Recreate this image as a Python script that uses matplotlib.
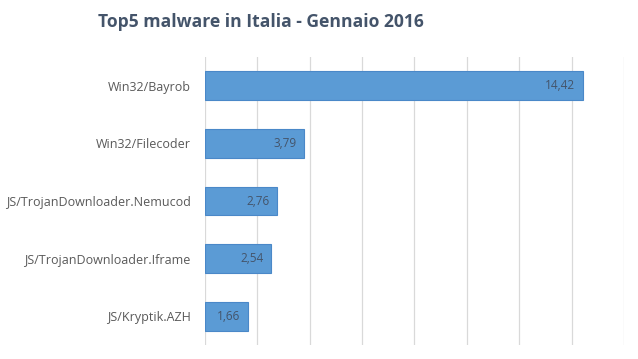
import matplotlib.pyplot as plt
import numpy as np

categories = [
    "Win32/Bayrob",
    "Win32/Filecoder",
    "JS/TrojanDownloader.Nemucod",
    "JS/TrojanDownloader.Iframe",
    "JS/Kryptik.AZH",
]
values = [14.42, 3.79, 2.76, 2.54, 1.66]
value_labels = ["14,42", "3,79", "2,76", "2,54", "1,66"]
x_ticks = [0, 2, 4, 6, 8, 10, 12, 14, 16]

plt.rcParams["font.family"] = ["Open Sans", "DejaVu Sans"]

fig = plt.figure(figsize=(6.38, 3.59), dpi=100)
ax = fig.add_axes([0.321, 0.039, 0.657, 0.802])

y = np.arange(len(categories))
bars = ax.barh(y, values, height=0.5, color="#5b9bd5", edgecolor="#4a88c8", linewidth=0.8, zorder=3)

for bar, lab in zip(bars, value_labels):
    ax.text(bar.get_width() - 0.3, bar.get_y() + bar.get_height() / 2, lab,
            ha="right", va="center", fontsize=8.5, color="#44546a", zorder=4)

ax.set_xlim(0, 16)
ax.set_ylim(len(categories) - 0.5, -0.5)
ax.set_xticks(x_ticks)
ax.set_xticklabels([])
ax.tick_params(axis="x", length=0)
ax.tick_params(axis="y", length=0, pad=10)
ax.set_yticks(y)
ax.set_yticklabels(categories, fontsize=9, color="#595959")
ax.grid(axis="x", color="#d9d9d9", linewidth=0.9, zorder=0)
for s in ax.spines.values():
    s.set_visible(False)

fig.text(0.409, 0.939, "Top5 malware in Italia - Gennaio 2016", ha="center", va="center",
         fontsize=12.6, fontweight="bold", color="#44546a")

fig.savefig("out.png", dpi=100)
